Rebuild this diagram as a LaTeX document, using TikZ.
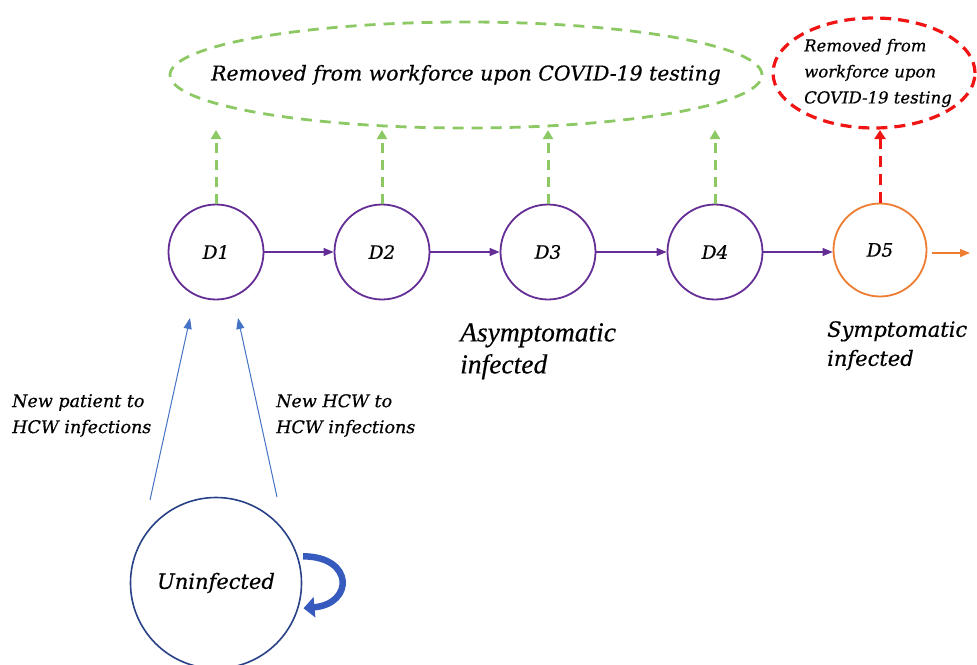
\documentclass[tikz,border=0pt]{standalone}
\usepackage{fontspec}
\setmainfont{DejaVu Serif}[ItalicFeatures={FakeBold=0.5}]
\newfontfamily\timesface{Liberation Serif}[ItalicFeatures={FakeBold=0.4}]
\usetikzlibrary{arrows.meta,shapes.geometric,calc}

\definecolor{stagepurple}{RGB}{100,45,150}
\definecolor{testgreen}{RGB}{140,200,100}
\definecolor{testred}{RGB}{240,20,20}
\definecolor{sympt}{RGB}{237,125,49}
\definecolor{infblue}{RGB}{68,114,196}
\definecolor{poolblue}{RGB}{40,65,135}
\definecolor{loopblue}{RGB}{55,90,190}

\begin{document}
\begin{tikzpicture}[x=1pt,y=-1pt,
  stage/.style={circle,draw=stagepurple,line width=1.8pt,minimum size=95pt,inner sep=0pt,
    font=\fontsize{18.5}{20}\selectfont\itshape},
  flow/.style={draw=stagepurple,line width=1.2pt,-{Triangle[length=10pt,width=8pt]}},
  greentest/.style={draw=testgreen,line width=3pt,dash pattern=on 10pt off 7pt,
    -{Triangle[length=9pt,width=10pt]}},
  redtest/.style={draw=testred,line width=3pt,dash pattern=on 11pt off 7pt,
    -{Triangle[length=9pt,width=11pt]}},
  infect/.style={draw=infblue,line width=1pt,-{Triangle[length=11pt,width=8pt]}},
  lbl/.style={align=left,font=\fontsize{17.5}{26}\selectfont\itshape,inner sep=0pt},
  biglbl/.style={align=left,font=\fontsize{27.5}{32}\selectfont\timesface\itshape,inner sep=0pt}
]
\useasboundingbox (0,0) rectangle (977,664);

% removal pools
\node[ellipse,draw=testgreen,line width=2.8pt,dash pattern=on 11pt off 8pt,
  minimum width=592pt,minimum height=106pt,inner sep=0pt,
  label={[font=\fontsize{20.4}{24}\selectfont\itshape]center:Removed from workforce upon COVID-19 testing}]
  (poolA) at (466,75) {};
\node[ellipse,draw=testred,line width=3.2pt,dash pattern=on 11pt off 7pt,
  minimum width=202pt,minimum height=110pt,inner sep=0pt,
  label={[align=left,font=\fontsize{16.5}{26}\selectfont\itshape,xshift=4pt,yshift=0pt]center:Removed from\\workforce upon\\COVID-19 testing}]
  (poolB) at (874,73) {};
\coordinate (testline) at (0,130);

% infection stages
\node[stage] (D1) at (216,252) {D1};
\node[stage] (D2) at (382,252) {D2};
\node[stage] (D3) at (548,252) {D3};
\node[stage] (D4) at (715,252) {D4};
\node[stage,draw=sympt,minimum size=93pt] (D5) at (880,250) {D5};
\coordinate (onward) at (970,253);

\draw[flow] (D1) -- (D2);
\draw[flow] (D2) -- (D3);
\draw[flow] (D3) -- (D4);
\draw[flow] (D4.east) -- (D5.west |- D4.east);
\draw[draw=sympt,line width=1.2pt,-{Triangle[length=10pt,width=8pt]}] ($(D5.east |- onward)+(5,0)$) -- (onward);

\foreach \s in {D1,D2,D3,D4}
  \draw[greentest] (\s.north) -- (\s.north |- testline);
\draw[redtest] (D5.north) -- (D5.north |- testline);

% stage group labels
\node[biglbl,anchor=north west] (asym) at (460,323) {Asymptomatic\\infected};
\node[biglbl,anchor=north west,font=\fontsize{21}{29}\selectfont\itshape] (sym) at (827,321) {Symptomatic\\infected};

% uninfected pool
\node[circle,draw=poolblue,line width=1.6pt,minimum size=171pt,inner sep=0pt,
  font=\fontsize{21}{24}\selectfont\itshape] (U) at (216,583) {Uninfected};
\draw[draw=loopblue,line width=6.5pt,-{Triangle[length=11pt,width=20pt]}]
  ($(U.18)+(5,0)$) to[out=0,in=5,looseness=2.5] ($(U.-17)+(5,0)$);

\coordinate (srcA) at (150,500);
\coordinate (srcB) at (277,497);
\coordinate (tipA) at (190,318);
\coordinate (tipB) at (238,318);
\draw[infect] (srcA) -- (tipA);
\draw[infect] (srcB) -- (tipB);

\node[lbl,anchor=north west] (patlbl) at (12,394) {New patient to\\HCW infections};
\node[lbl,anchor=north west] (hcwlbl) at (276,394) {New HCW to\\HCW infections};
\end{tikzpicture}
\end{document}
